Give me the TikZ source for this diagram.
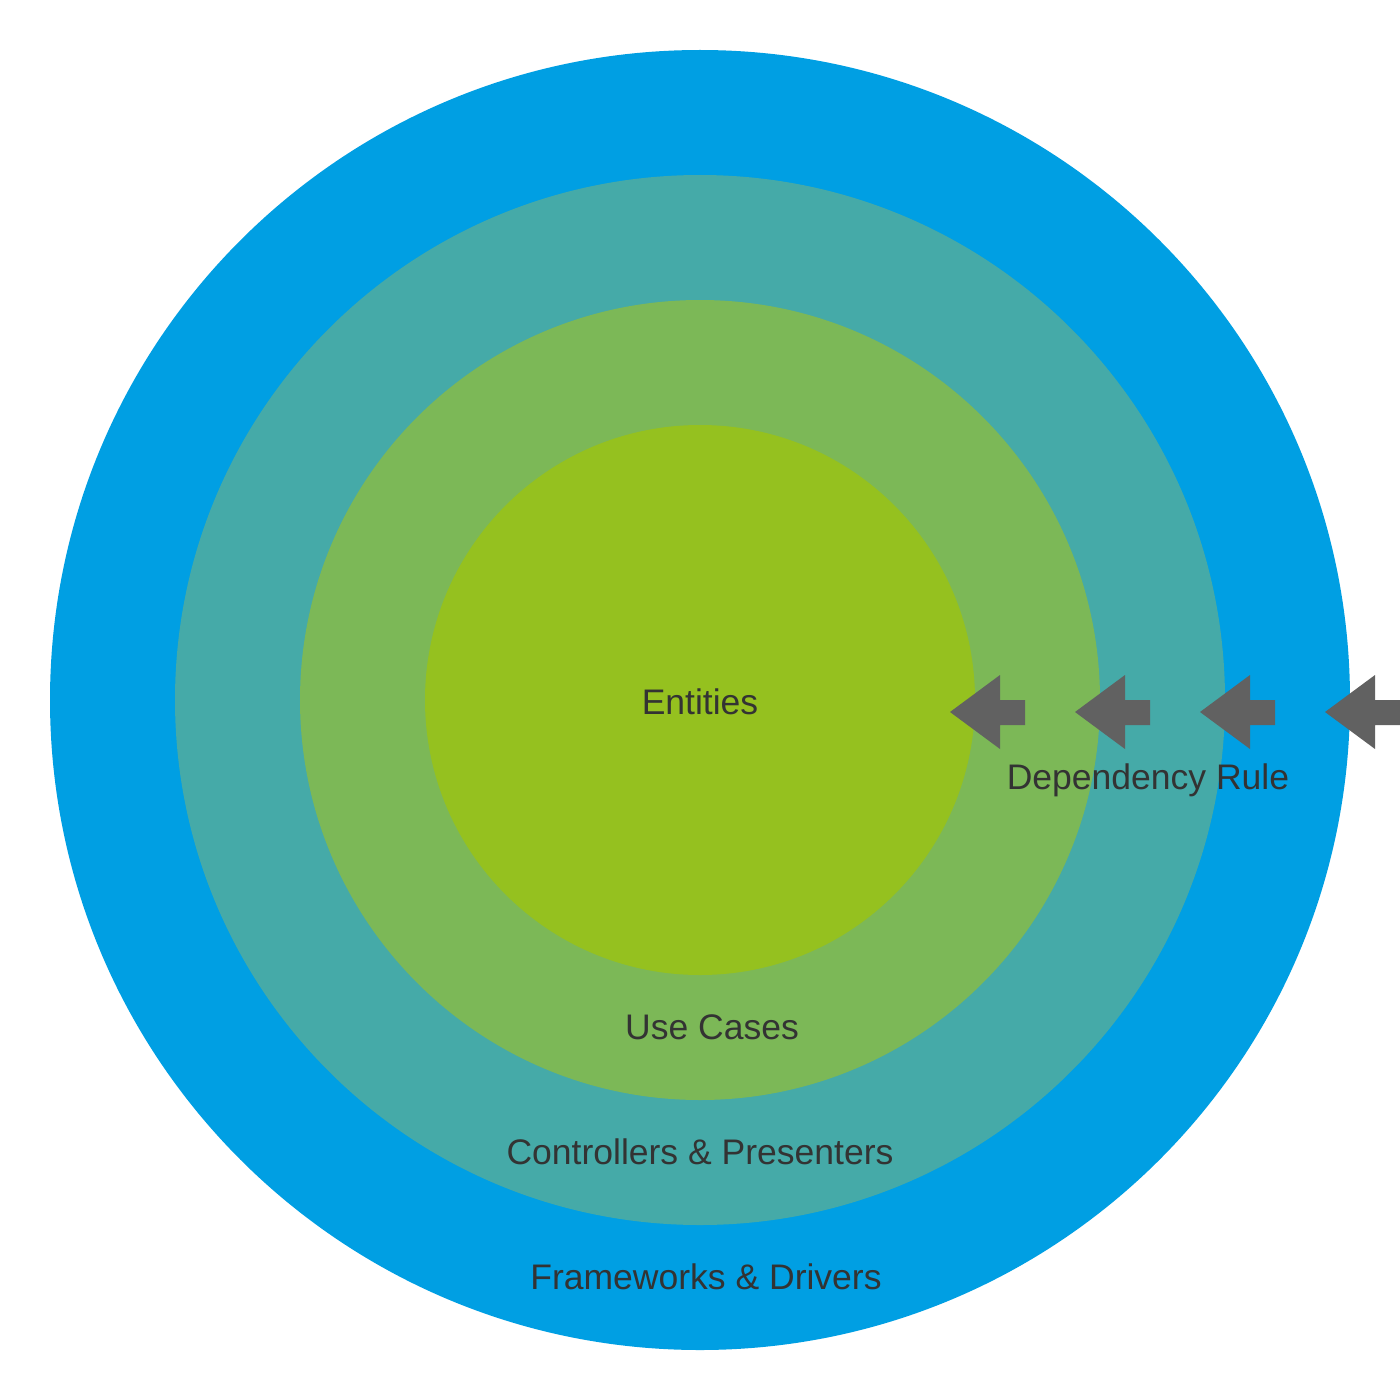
\documentclass[tikz,border=0pt]{standalone}
\usepackage{fontspec}
\setmainfont{Liberation Sans}
\definecolor{cfw}{HTML}{009FE3}
\definecolor{ccp}{HTML}{45AAA8}
\definecolor{cuc}{HTML}{7CB857}
\definecolor{cent}{HTML}{95C11F}
\definecolor{carrow}{HTML}{616161}
\definecolor{ctext}{HTML}{333333}
\begin{document}
\begin{tikzpicture}[x=0.01cm,y=-0.01cm,
  lbl/.style={anchor=base,text=ctext,inner sep=0pt,font=\fontsize{10.1}{12}\selectfont},
  deparrow/.style={fill=carrow,draw=none}]
\useasboundingbox (0,0) rectangle (1400,1400);
\clip (0,0) rectangle (1400,1400);
\fill[cfw] (700,700) circle[radius=650];
\fill[ccp] (700,700) circle[radius=525];
\fill[cuc] (700,700) circle[radius=400];
\fill[cent] (700,700) circle[radius=275];
\foreach \t in {950,1075,1200,1325}{
  \fill[deparrow] (\t,712) -- (\t+50,675) -- (\t+50,700) -- (\t+75,700) -- (\t+75,725) -- (\t+50,725) -- (\t+50,749) -- cycle;
}
\fill[deparrow] (1390,700) rectangle (1400,725);
\node[lbl] (ent) at (700,714) {Entities};
\node[lbl] (uc) at (712,1039) {Use Cases};
\node[lbl] (cp) at (700,1164) {Controllers \& Presenters};
\node[lbl] (fd) at (706,1289) {Frameworks \& Drivers};
\node[lbl] (dr) at (1148,789) {Dependency Rule};
\end{tikzpicture}
\end{document}
